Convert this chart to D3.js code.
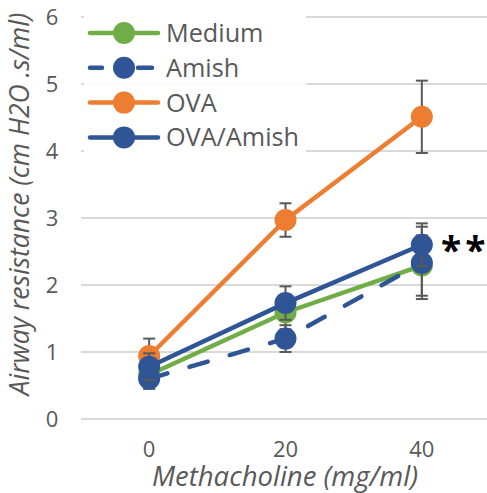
<!DOCTYPE html>
<html>
<head>
<meta charset="utf-8">
<script src="https://cdn.jsdelivr.net/npm/d3@7"></script>
<style>
  body { margin: 0; background: #fff; }
  text { font-family: "Open Sans", Lato, sans-serif; fill: #595959; }
</style>
</head>
<body>
<div class="chart"></div>
<script>
const doses = ['0', '20', '40'];
const yTicks = [0, 1, 2, 3, 4, 5, 6];
const seriesNames = ['Medium', 'Amish', 'OVA', 'OVA/Amish'];
const medium = [0.66, 1.59, 2.29];
const mediumErr = [0.2, 0.25, 0.45];
const amish = [0.6, 1.2, 2.33];
const amishErr = [0.15, 0.2, 0.54];
const ova = [0.94, 2.97, 4.51];
const ovaErr = [0.26, 0.25, 0.54];
const ovaAmish = [0.78, 1.73, 2.6];
const ovaAmishErr = [0.2, 0.25, 0.32];

const w = 487, h = 493;
const padL = 81, padR = 490, padT = 17, padB = 419;

const series = [
  {name: seriesNames[0], vals: medium, err: mediumErr, color: '#70AD47', dash: null},
  {name: seriesNames[1], vals: amish, err: amishErr, color: '#2F5597', dash: '19,23'},
  {name: seriesNames[2], vals: ova, err: ovaErr, color: '#ED7D31', dash: null},
  {name: seriesNames[3], vals: ovaAmish, err: ovaAmishErr, color: '#2F5597', dash: null}
];

const xScale = d3.scaleBand().domain(doses).range([padL, padR]);
const yScale = d3.scaleLinear().domain([0, 6]).range([padB, padT]);
const xc = (d) => xScale(d) + xScale.bandwidth() / 2;

// scale a text's font size so it spans the wanted width
function fit(sel, width) {
  const len = sel.node().getComputedTextLength();
  const fs = parseFloat(sel.attr('font-size'));
  sel.attr('font-size', fs * width / len);
}

const svg = d3.select('div.chart')
  .append('svg')
  .attr('width', w)
  .attr('height', h);

// gridlines
svg.append('g')
  .selectAll('line')
  .data(yTicks)
  .enter()
  .append('line')
  .attr('x1', padL)
  .attr('x2', w)
  .attr('y1', (d) => yScale(d))
  .attr('y2', (d) => yScale(d))
  .attr('stroke', '#D9D9D9')
  .attr('stroke-width', 2);

// y tick labels
svg.append('g')
  .selectAll('text')
  .data(yTicks)
  .enter()
  .append('text')
  .attr('x', 52)
  .attr('y', (d) => yScale(d))
  .attr('dy', '0.36em')
  .attr('text-anchor', 'middle')
  .attr('font-size', 22)
  .text((d) => d);

// x tick labels
svg.append('g')
  .selectAll('text')
  .data(doses)
  .enter()
  .append('text')
  .attr('x', (d) => xc(d))
  .attr('y', 457)
  .attr('text-anchor', 'middle')
  .attr('font-size', 22)
  .text((d) => d);

const xTitle = svg.append('text')
  .attr('x', 285)
  .attr('y', 486)
  .attr('text-anchor', 'middle')
  .attr('font-size', 22)
  .attr('font-style', 'italic')
  .text('Methacholine (mg/ml)');
fit(xTitle, 266);

const yTitle = svg.append('text')
  .attr('transform', 'translate(29,204) rotate(-90)')
  .attr('text-anchor', 'middle')
  .attr('font-size', 22)
  .attr('font-style', 'italic')
  .text('Airway resistance (cm H2O .s/ml)');
fit(yTitle, 383);

const line = d3.line()
  .x((d, i) => xc(doses[i]))
  .y((d) => yScale(d));

series.forEach(function(s) {
  const g = svg.append('g');
  const eb = g.selectAll('g.err')
    .data(s.vals)
    .enter()
    .append('g')
    .attr('stroke', '#595959')
    .attr('stroke-width', 2);
  eb.append('line')
    .attr('x1', (d, i) => xc(doses[i]))
    .attr('x2', (d, i) => xc(doses[i]))
    .attr('y1', (d, i) => yScale(d + s.err[i]))
    .attr('y2', (d, i) => yScale(d - s.err[i]));
  [1, -1].forEach(function(sign) {
    eb.append('line')
      .attr('x1', (d, i) => xc(doses[i]) - 6)
      .attr('x2', (d, i) => xc(doses[i]) + 6)
      .attr('y1', (d, i) => yScale(d + sign * s.err[i]))
      .attr('y2', (d, i) => yScale(d + sign * s.err[i]));
  });
  g.append('path')
    .datum(s.vals)
    .attr('d', line)
    .attr('fill', 'none')
    .attr('stroke', s.color)
    .attr('stroke-width', 4.5)
    .attr('stroke-linecap', 'round')
    .attr('stroke-dasharray', s.dash);
  g.selectAll('circle')
    .data(s.vals)
    .enter()
    .append('circle')
    .attr('cx', (d, i) => xc(doses[i]))
    .attr('cy', (d) => yScale(d))
    .attr('r', 11)
    .attr('fill', s.color);
});

// legend
const legend = svg.append('g')
  .selectAll('g')
  .data(series)
  .enter()
  .append('g')
  .attr('transform', (d, i) => 'translate(0,' + (33 + i * 34.8) + ')');
legend.append('rect')
  .attr('x', 84)
  .attr('y', -17)
  .attr('width', 222)
  .attr('height', 34)
  .attr('fill', '#fff');
legend.append('line')
  .attr('x1', 90)
  .attr('x2', 158)
  .attr('stroke', (d) => d.color)
  .attr('stroke-width', 4.5)
  .attr('stroke-linecap', 'round')
  .attr('stroke-dasharray', (d) => d.dash ? '12,36,14,100' : null);
legend.append('circle')
  .attr('cx', 124)
  .attr('r', 11)
  .attr('fill', (d) => d.color);
const legText = legend.append('text')
  .attr('x', 166)
  .attr('dy', '0.36em')
  .attr('font-size', 22)
  .text((d) => d.name);
const last = d3.select(legText.nodes()[3]);
const legSize = 22 * 133 / last.node().getComputedTextLength();
legText.attr('font-size', legSize);

// significance mark
const star = svg.append('text')
  .attr('x', 441)
  .attr('y', 264)
  .attr('font-size', 37)
  .attr('font-weight', 'bold')
  .style('fill', '#000');
star.append('tspan').text('*');
star.append('tspan').attr('dx', 4).text('*');
</script>
</body>
</html>
